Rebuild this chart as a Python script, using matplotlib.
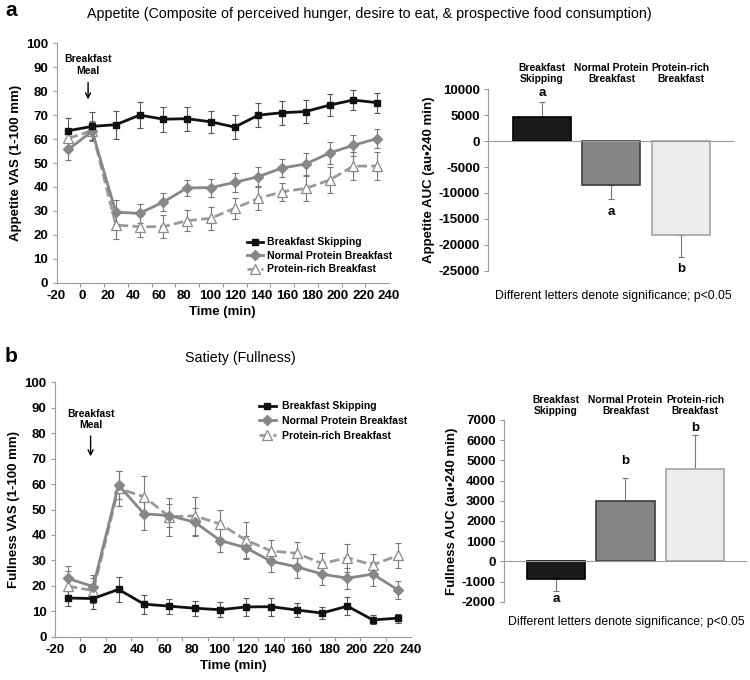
import numpy as np
import matplotlib
matplotlib.use("Agg")
import matplotlib.pyplot as plt

plt.rcParams['font.family'] = ['Liberation Sans', 'DejaVu Sans']

# ---------------- data ----------------
groups = ["Breakfast Skipping", "Normal Protein Breakfast", "Protein-rich Breakfast"]
bar_cats = ["Breakfast\nSkipping", "Normal Protein\nBreakfast", "Protein-rich\nBreakfast"]
time_labels = [-20, 0, 20, 40, 60, 80, 100, 120, 140, 160, 180, 200, 220, 240]
times = [-10.7, 7.9, 26.4, 45.0, 63.6, 82.1, 100.7, 119.3, 137.9, 156.4, 175.0, 193.6, 212.1, 230.7]

app_skip = [63.5, 65.3, 66.0, 70.0, 68.3, 68.5, 67.2, 65.0, 70.0, 71.0, 71.5, 74.2, 76.3, 75.2]
app_skip_err = [5.3, 5.8, 5.8, 5.5, 5.3, 5.0, 4.7, 5.0, 5.0, 5.0, 4.9, 4.5, 4.3, 4.2]
app_norm = [55.7, 63.3, 29.4, 29.0, 33.7, 39.6, 39.7, 41.9, 44.3, 47.9, 49.6, 54.2, 57.4, 60.2]
app_norm_err = [4.5, 4.0, 5.0, 4.0, 3.8, 3.5, 3.8, 4.0, 4.2, 3.8, 4.5, 4.6, 4.3, 4.0]
app_prot = [60.3, 63.5, 24.1, 23.4, 23.4, 25.9, 26.9, 31.1, 35.2, 38.0, 39.4, 42.9, 48.7, 48.7]
app_prot_err = [3.0, 4.0, 5.9, 4.5, 4.9, 4.5, 4.7, 4.4, 5.0, 3.8, 5.2, 5.6, 5.9, 5.9]

full_skip = [15.2, 15.0, 18.6, 12.8, 12.0, 11.2, 10.6, 11.7, 11.8, 10.5, 9.3, 12.0, 6.6, 7.3]
full_skip_err = [3.3, 4.2, 4.8, 3.7, 3.0, 3.0, 3.0, 3.5, 3.5, 2.7, 2.2, 3.5, 1.8, 1.8]
full_norm = [22.9, 19.7, 59.6, 48.3, 47.6, 45.0, 37.8, 35.0, 29.6, 27.5, 24.6, 23.0, 24.6, 18.3]
full_norm_err = [5.0, 4.5, 5.5, 6.2, 4.5, 5.5, 4.5, 4.5, 4.2, 4.5, 4.2, 4.2, 4.7, 3.5]
full_prot = [19.9, 18.1, 58.3, 55.0, 47.2, 47.5, 44.3, 38.0, 33.7, 32.8, 28.8, 31.0, 28.2, 32.0]
full_prot_err = [6.0, 5.0, 7.0, 8.0, 7.5, 7.5, 5.5, 7.0, 4.5, 4.5, 4.0, 5.5, 4.5, 5.0]

app_auc = [4700, -8500, -18100]
app_auc_err = [2900, 2750, 4300]
app_letters = ["a", "a", "b"]
full_auc = [-890, 2980, 4570]
full_auc_err = [560, 1160, 1690]
full_letters = ["a", "b", "b"]

# ---------------- figure ----------------
W, H = 750, 680
fig = plt.figure(figsize=(7.5, 6.8), dpi=100)

def rect(l, r, t, b):
    return [l / W, 1 - b / H, (r - l) / W, (b - t) / H]

SPINE = "#9a9a9a"
TICKFS = 9.5
LABFS = 9.5

def style_line_ax(ax):
    for s in ["top", "right"]:
        ax.spines[s].set_visible(False)
    for s in ["left", "bottom"]:
        ax.spines[s].set_color(SPINE)
        ax.spines[s].set_linewidth(0.8)
    ax.set_xlim(-20, 240)
    ax.set_ylim(0, 100)
    ax.set_yticks(np.arange(0, 101, 10))
    ax.set_xticks(time_labels)
    ax.set_xticklabels([str(t) for t in time_labels])
    ax.tick_params(axis='x', which='major', length=0, pad=5)
    ax.set_xticks(np.linspace(-20, 240, 15), minor=True)
    ax.tick_params(axis='x', which='minor', length=3, color=SPINE, width=0.8)
    ax.tick_params(axis='y', length=3, color=SPINE, width=0.8, pad=3)
    for lab in ax.get_xticklabels() + ax.get_yticklabels():
        lab.set_fontweight('bold')
        lab.set_fontsize(TICKFS)
    ax.set_xlabel("Time (min)", fontsize=LABFS, fontweight='bold', labelpad=3)

def draw_series(ax, sk, ske, no, noe, pr, pre):
    ax.errorbar(times, pr, yerr=pre, fmt='none', ecolor='#777777', elinewidth=0.8, capsize=2, capthick=0.8, zorder=2)
    ax.errorbar(times, no, yerr=noe, fmt='none', ecolor='#777777', elinewidth=0.8, capsize=2, capthick=0.8, zorder=2)
    ax.errorbar(times, sk, yerr=ske, fmt='none', ecolor='#555555', elinewidth=0.8, capsize=2, capthick=0.8, zorder=2)
    h3, = ax.plot(times, pr, color='#9a9a9a', lw=2, ls=(0, (3.5, 1.5)), marker='^', ms=7.5,
                  mfc='white', mec='#8a8a8a', mew=0.9, zorder=3, label=groups[2])
    h2, = ax.plot(times, no, color='#878787', lw=2, marker='D', ms=5,
                  mfc='#878787', mec='#878787', zorder=4, label=groups[1])
    h1, = ax.plot(times, sk, color='#111111', lw=2, marker='s', ms=5,
                  mfc='#111111', mec='#111111', zorder=5, label=groups[0])
    return [h1, h2, h3]

# ---- panel a line chart
ax1 = fig.add_axes(rect(56.5, 389, 43.3, 282.7))
style_line_ax(ax1)
hs = draw_series(ax1, app_skip, app_skip_err, app_norm, app_norm_err, app_prot, app_prot_err)
ax1.set_ylabel("Appetite VAS (1-100 mm)", fontsize=LABFS, fontweight='bold', labelpad=3)
ax1.legend(hs, groups, loc='lower left', bbox_to_anchor=(0.572, 0.035), frameon=False,
           prop={'weight': 'bold', 'size': 7.5}, handlelength=1.6, handletextpad=0.35,
           labelspacing=0.33, borderpad=0, borderaxespad=0)
ax1.text(4.7, 90.9, "Breakfast\nMeal", ha='center', va='center', fontsize=7.5, fontweight='bold', linespacing=1.15)
ax1.annotate("", xy=(4.7, 75.4), xytext=(4.7, 84.8),
             arrowprops=dict(arrowstyle='->', color='black', lw=1.0, mutation_scale=9))

# ---- panel b line chart
ax2 = fig.add_axes(rect(55, 411, 382.3, 636.7))
style_line_ax(ax2)
hs2 = draw_series(ax2, full_skip, full_skip_err, full_norm, full_norm_err, full_prot, full_prot_err)
ax2.set_ylabel("Fullness VAS (1-100 mm)", fontsize=LABFS, fontweight='bold', labelpad=3)
ax2.legend(hs2, groups, loc='upper left', bbox_to_anchor=(0.573, 0.925), frameon=False,
           prop={'weight': 'bold', 'size': 7.5}, handlelength=1.6, handletextpad=0.6,
           labelspacing=0.45, borderpad=0, borderaxespad=0)
ax2.text(6.0, 85.3, "Breakfast\nMeal", ha='center', va='center', fontsize=7.5, fontweight='bold', linespacing=1.15)
ax2.annotate("", xy=(6.0, 69.8), xytext=(6.0, 80.0),
             arrowprops=dict(arrowstyle='->', color='black', lw=1.0, mutation_scale=9))

# ---- bar charts
bar_colors = ['#1a1a1a', '#858585', '#ececec']
bar_edges = ['#000000', '#3c3c3c', '#a5a5a5']

def bar_panel(ax, vals, errs, letters, letter_y, ylim, yticks, ylabel, cat_y, xlim):
    xs = np.arange(len(vals))
    ax.bar(xs, vals, width=0.835, color=bar_colors, edgecolor=bar_edges, linewidth=1.2, zorder=2)
    for x, v, e in zip(xs, vals, errs):
        sgn = 1 if v >= 0 else -1
        ax.errorbar([x], [v], yerr=[[0], [e]] if sgn > 0 else [[e], [0]], fmt='none',
                    ecolor='#777777', elinewidth=0.8, capsize=2, capthick=0.8, zorder=1)
    for x, l, ly in zip(xs, letters, letter_y):
        ax.text(x, ly, l, ha='center', va='center', fontsize=9.5, fontweight='bold')
    for x, c in zip(xs, bar_cats):
        ax.text(x, cat_y, c, ha='center', va='center', fontsize=7.4, fontweight='bold',
                transform=ax.get_xaxis_transform(), linespacing=1.15)
    ax.set_xlim(*xlim)
    ax.set_ylim(*ylim)
    ax.set_yticks(yticks)
    ax.set_yticklabels([str(t) for t in yticks])
    for s in ["top", "right"]:
        ax.spines[s].set_visible(False)
    ax.spines['bottom'].set_position(('data', 0))
    ax.spines['bottom'].set_color(SPINE)
    ax.spines['bottom'].set_linewidth(0.8)
    ax.spines['left'].set_color(SPINE)
    ax.spines['left'].set_linewidth(0.8)
    ax.set_xticks([])
    ax.tick_params(axis='y', length=3, color=SPINE, width=0.8, pad=3)
    for lab in ax.get_yticklabels():
        lab.set_fontweight('bold')
        lab.set_fontsize(TICKFS)
    ax.set_ylabel(ylabel, fontsize=LABFS, fontweight='bold', labelpad=3)

ax3 = fig.add_axes(rect(488.3, 732.7, 89.3, 270.7))
bar_panel(ax3, app_auc, app_auc_err, app_letters, [9200, -13700, -24700], (-25000, 10000),
          list(range(-25000, 10001, 5000)), "Appetite AUC (au\u2022240 min)", 1.085, (-0.774, 2.748))

ax4 = fig.add_axes(rect(504, 746, 420, 601.7))
bar_panel(ax4, full_auc, full_auc_err, full_letters, [-1850, 4970, 6590], (-2000, 7000),
          list(range(-2000, 7001, 1000)), "Fullness AUC (au\u2022240 min)", 1.078, (-0.748, 2.734))

# ---- figure texts
fig.text(613 / W, 1 - 295.7 / H, "Different letters denote significance; p<0.05", ha='center', va='center', fontsize=8.8)
fig.text(626 / W, 1 - 621.7 / H, "Different letters denote significance; p<0.05", ha='center', va='center', fontsize=8.8)
fig.text(5 / W, 1 - 10 / H, "a", ha='left', va='center', fontsize=15, fontweight='bold')
fig.text(5 / W, 1 - 357 / H, "b", ha='left', va='center', fontsize=15, fontweight='bold')
fig.text(369 / W, 1 - 14 / H, "Appetite (Composite of perceived hunger, desire to eat, & prospective food consumption)",
         ha='center', va='center', fontsize=10.3)
fig.text(240 / W, 1 - 357.7 / H, "Satiety (Fullness)", ha='center', va='center', fontsize=10.3)

fig.savefig("out.png", dpi=100)
